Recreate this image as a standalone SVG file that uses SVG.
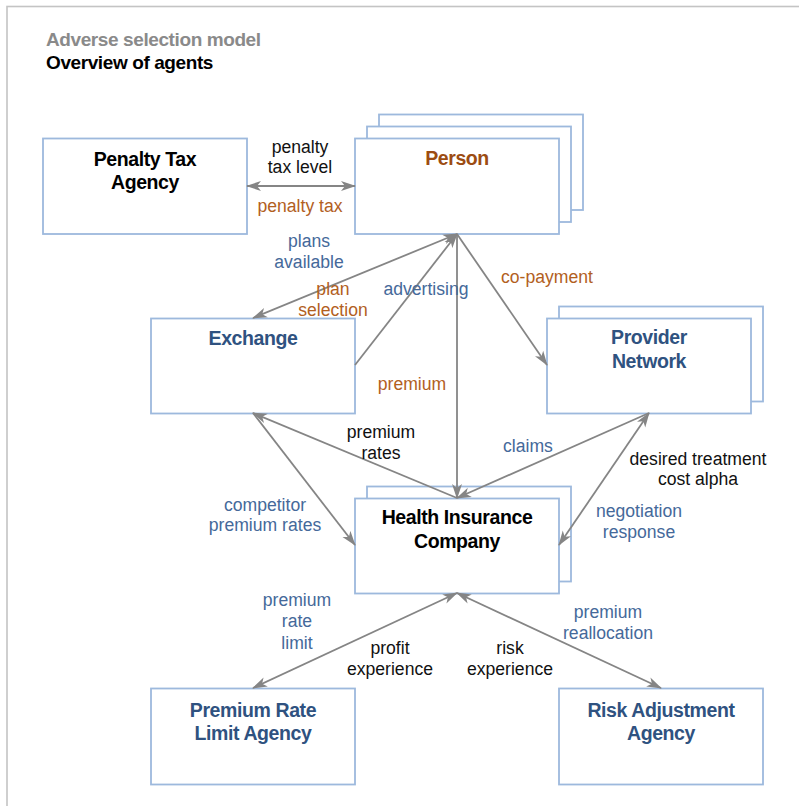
<svg xmlns="http://www.w3.org/2000/svg" width="799" height="806" viewBox="0 0 799 806">
  <style>
    .box { fill: #ffffff; stroke: #9db9dd; stroke-width: 1.8; }
    .edge { fill: none; stroke: #858585; stroke-width: 1.8; }
    text { font-family: "Liberation Sans", Arial, sans-serif; }
    .title { font-size: 19.5px; font-weight: bold; text-anchor: middle; letter-spacing: -0.4px; }
    .t-black { fill: #000000; }
    .t-blue { fill: #2f5280; }
    .t-orange { fill: #9c4c12; }
    .lbl { font-size: 17.6px; text-anchor: middle; }
    .l-black { fill: #111111; }
    .l-blue { fill: #45699a; }
    .l-orange { fill: #b2601e; }
    .head { font-size: 19px; font-weight: bold; letter-spacing: -0.4px; }
  </style>
  <defs>
    <marker id="arrow" viewBox="0 0 15 11" refX="14" refY="5.5" markerWidth="15" markerHeight="11" markerUnits="userSpaceOnUse" orient="auto-start-reverse">
      <path d="M0,0.5 L15,5.5 L0,10.5 L4,5.5 z" fill="#858585"/>
    </marker>
  </defs>

  <!-- frame -->
  <rect x="7" y="6.5" width="900" height="900" fill="#ffffff" stroke="#c4c4c4" stroke-width="1.6"/>

  <!-- heading -->
  <text class="head" x="46" y="46" fill="#8a8a8a">Adverse selection model</text>
  <text class="head" x="46" y="69" fill="#000000">Overview of agents</text>

  <!-- nodes -->
  <g id="penalty-tax-agency">
    <rect class="box" x="43" y="138.5" width="204" height="95.5"/>
    <text class="title t-black" x="145" y="166">Penalty Tax</text>
    <text class="title t-black" x="145" y="189">Agency</text>
  </g>

  <g id="person">
    <rect class="box" x="379" y="114.5" width="204" height="95.5"/>
    <rect class="box" x="367" y="126.5" width="204" height="95.5"/>
    <rect class="box" x="355" y="138.5" width="204" height="95.5"/>
    <text class="title t-orange" x="457" y="165">Person</text>
  </g>

  <g id="exchange">
    <rect class="box" x="151" y="318.5" width="204" height="95"/>
    <text class="title t-blue" x="253" y="345">Exchange</text>
  </g>

  <g id="provider-network">
    <rect class="box" x="559" y="306.5" width="204" height="95"/>
    <rect class="box" x="547" y="318.5" width="204" height="95"/>
    <text class="title t-blue" x="649" y="344">Provider</text>
    <text class="title t-blue" x="649" y="368">Network</text>
  </g>

  <g id="health-insurance-company">
    <rect class="box" x="367" y="486.5" width="204" height="95"/>
    <rect class="box" x="355" y="498.5" width="204" height="95"/>
    <text class="title t-black" x="457" y="524">Health Insurance</text>
    <text class="title t-black" x="457" y="548">Company</text>
  </g>

  <g id="premium-rate-limit-agency">
    <rect class="box" x="151" y="688.5" width="204" height="96"/>
    <text class="title t-blue" x="253" y="717">Premium Rate</text>
    <text class="title t-blue" x="253" y="740">Limit Agency</text>
  </g>

  <g id="risk-adjustment-agency">
    <rect class="box" x="559" y="688.5" width="204" height="96"/>
    <text class="title t-blue" x="661" y="717">Risk Adjustment</text>
    <text class="title t-blue" x="661" y="740">Agency</text>
  </g>

  <!-- connectors, drawn over the stacked node outlines -->
  <g id="connectors">
    <path class="edge" d="M247,186 L355,186" marker-start="url(#arrow)" marker-end="url(#arrow)"/>
    <path class="edge" d="M457,234 L253,318" marker-start="url(#arrow)" marker-end="url(#arrow)"/>
    <path class="edge" d="M355,365 L457,234" marker-end="url(#arrow)"/>
    <path class="edge" d="M457,234 L457,498" marker-end="url(#arrow)"/>
    <path class="edge" d="M457,234 L547,365" marker-end="url(#arrow)"/>
    <path class="edge" d="M457,498 L253,413" marker-end="url(#arrow)"/>
    <path class="edge" d="M253,413 L355,545" marker-end="url(#arrow)"/>
    <path class="edge" d="M649,413 L457,498" marker-end="url(#arrow)"/>
    <path class="edge" d="M559,545 L649,413" marker-start="url(#arrow)" marker-end="url(#arrow)"/>
    <path class="edge" d="M457,593 L253,688" marker-start="url(#arrow)" marker-end="url(#arrow)"/>
    <path class="edge" d="M457,593 L661,688" marker-start="url(#arrow)" marker-end="url(#arrow)"/>
  </g>

  <!-- connector labels -->
  <g id="edge-labels" class="lbl">
    <text class="l-black" x="300" y="153">penalty</text>
    <text class="l-black" x="300" y="173">tax level</text>
    <text class="l-orange" x="300" y="212">penalty tax</text>
    <text class="l-blue" x="309" y="247">plans</text>
    <text class="l-blue" x="309" y="268">available</text>
    <text class="l-orange" x="333" y="295">plan</text>
    <text class="l-orange" x="333" y="316">selection</text>
    <text class="l-blue" x="426" y="295">advertising</text>
    <text class="l-orange" x="412" y="390">premium</text>
    <text class="l-orange" x="547" y="283">co-payment</text>
    <text class="l-black" x="381" y="438">premium</text>
    <text class="l-black" x="381" y="459">rates</text>
    <text class="l-blue" x="528" y="452">claims</text>
    <text class="l-black" x="698" y="465">desired treatment</text>
    <text class="l-black" x="698" y="485">cost alpha</text>
    <text class="l-blue" x="265" y="511">competitor</text>
    <text class="l-blue" x="265" y="531">premium rates</text>
    <text class="l-blue" x="639" y="517">negotiation</text>
    <text class="l-blue" x="639" y="538">response</text>
    <text class="l-blue" x="297" y="606">premium</text>
    <text class="l-blue" x="297" y="627">rate</text>
    <text class="l-blue" x="297" y="649">limit</text>
    <text class="l-black" x="390" y="654">profit</text>
    <text class="l-black" x="390" y="675">experience</text>
    <text class="l-black" x="510" y="654">risk</text>
    <text class="l-black" x="510" y="675">experience</text>
    <text class="l-blue" x="608" y="618">premium</text>
    <text class="l-blue" x="608" y="639">reallocation</text>
  </g>
</svg>
